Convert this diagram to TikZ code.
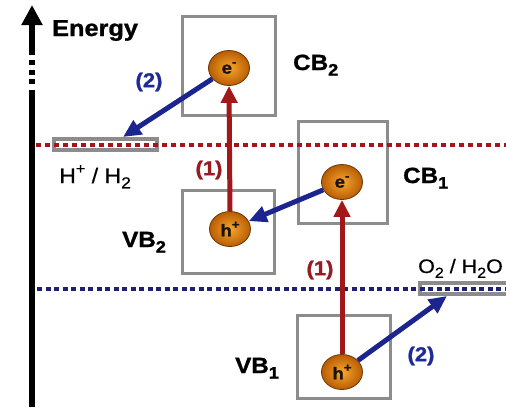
\documentclass[tikz,border=0pt]{standalone}
\usepackage{fontspec}
\usepackage{graphicx}
\setmainfont[FakeStretch=1.1,BoldFeatures={FakeBold=1.2}]{Liberation Sans}
\newfontfamily\levelfont[FakeStretch=1.1,FakeBold=0.7]{Liberation Sans}
\usetikzlibrary{arrows.meta,shapes.geometric}
\definecolor{boxgray}{RGB}{140,140,140}
\definecolor{lvlred}{RGB}{160,22,28}
\definecolor{arrred}{RGB}{162,24,26}
\definecolor{arrblue}{RGB}{28,36,142}
\definecolor{lvlblue}{RGB}{32,32,112}
\definecolor{txtblue}{RGB}{30,42,150}
\definecolor{txtred}{RGB}{150,28,36}
\definecolor{ballin}{RGB}{246,168,45}
\definecolor{ballout}{RGB}{185,92,4}
\definecolor{ballrim}{RGB}{105,56,5}
\newcommand\sbs[1]{\raisebox{-0.25em}{\scalebox{0.75}{#1}}}
\newcommand\sps[1]{\raisebox{0.45em}{\scalebox{0.7}{#1}}}
\begin{document}
\begin{tikzpicture}[x=1pt,y=-1pt,
  bandbox/.style={draw=boxgray,line width=3pt},
  particle/.style={ellipse,minimum width=41pt,minimum height=35pt,inner sep=0pt,
    inner color=ballin,outer color=ballout,draw=ballrim,line width=0.8pt,
    font=\fontsize{17}{17}\selectfont\bfseries,text=black!85!brown},
  bandlabel/.style={anchor=base west,inner sep=0pt,font=\fontsize{22}{22}\selectfont\bfseries},
  redlevel/.style={draw=lvlred,line width=4pt,dash pattern=on 4.5pt off 4.5pt},
  bluelevel/.style={draw=lvlblue,line width=3.5pt,dash pattern=on 5pt off 3.5pt},
  levelbar/.style={draw=boxgray,line width=3.5pt,fill=white},
  excite/.style={draw=arrred,line width=5pt,-{Triangle[length=17pt,width=16pt]}},
  transfer/.style={draw=arrblue,line width=5pt,-{Triangle[length=18pt,width=16pt]}},
  steplabel/.style={inner sep=0pt,font=\fontsize{20}{20}\selectfont\bfseries},
  levellabel/.style={anchor=base west,inner sep=0pt,font=\fontsize{21}{21}\levelfont},
  axisline/.style={line width=6pt}]
\useasboundingbox (0,0) rectangle (506,407);
\clip (0,0) rectangle (506,407);
% energy axis
\draw[axisline] (32,407) -- (32,90);
\foreach \a/\b in {84/79,75/70,65/60} \draw[axisline] (32,\a) -- (32,\b);
\draw[axisline,-{Triangle[length=20pt,width=20pt]}] (32,55) -- (32,5);
\node[anchor=base west,inner sep=0pt,font=\fontsize{23}{23}\selectfont\bfseries] (energy) at (52,36) {Energy};
% band boxes
\draw[bandbox] (182,16) rectangle (275,115);
\draw[bandbox] (182,190) rectangle (274,273);
\draw[bandbox] (298,121) rectangle (387,223);
\draw[bandbox] (297,315) rectangle (390,398);
% levels
\draw[levelbar] (54,139) rectangle (157,150);
\draw[levelbar] (420,283) rectangle (512,294);
\draw[redlevel] (36,145) -- (506,145);
\draw[bluelevel] (37,289) -- (506,289);
% labels
\node[bandlabel] (cb2) at (293,70) {CB\sbs{2}};
\node[bandlabel] (cb1) at (403,183) {CB\sbs{1}};
\node[bandlabel] (vb2) at (122,247) {VB\sbs{2}};
\node[bandlabel] (vb1) at (235,373) {VB\sbs{1}};
\node[levellabel] (hlab) at (59,183) {H\sps{+} / H\sbs{2}};
\node[levellabel,font=\fontsize{19.5}{19.5}\levelfont] (olab) at (418,273) {O\sbs{2} / H\sbs{2}O};
% particles
\node[particle] (e2) at (229,68) {e\sps{-}};
\node[particle] (h2) at (230,229) {h\sps{+}};
\node[particle] (e1) at (342,182) {e\sps{-}};
\node[particle] (h1) at (342,372) {h\sps{+}};
\coordinate (hlev) at (123,137);
\coordinate (olev) at (447,296);
% arrows
\draw[excite] (h2.north) -- (e2.south);
\draw[excite] (h1.north) -- (e1.south);
\draw[transfer] (e2) -- (hlev);
\draw[transfer] (e1) -- (h2);
\draw[transfer] (h1) -- (olev);
% step labels
\node[steplabel,text=txtblue] (s2a) at (149,82) {(2)};
\node[steplabel,text=txtred] (s1a) at (209,170) {(1)};
\node[steplabel,text=txtred] (s1b) at (320,270) {(1)};
\node[steplabel,text=txtblue] (s2b) at (421,356) {(2)};
\end{tikzpicture}
\end{document}
